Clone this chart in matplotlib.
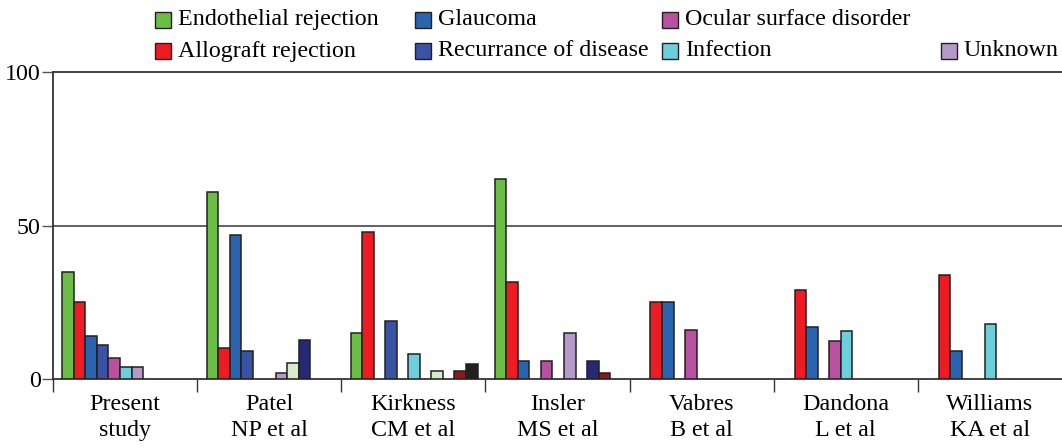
import numpy as np
import matplotlib.pyplot as plt
from matplotlib.patches import Rectangle

plt.rcParams['font.family'] = ['Liberation Serif', 'DejaVu Serif']
plt.rcParams['font.size'] = 17.3

studies = ['Present\nstudy', 'Patel\nNP et al', 'Kirkness\nCM et al', 'Insler\nMS et al',
           'Vabres\nB et al', 'Dandona\nL et al', 'Williams\nKA et al']

nan = np.nan
endothelial = [35, 61, 15, 65, nan, nan, nan]
allograft = [25, 10, 48, 31.5, 25, 29, 34]
glaucoma = [14, 47, nan, 6, 25, 17, 9]
recurrance = [11, 9, 19, nan, nan, nan, nan]
ocular = [7, nan, nan, 6, 16, 12.5, nan]
infection = [4, nan, 8, nan, nan, 15.5, 18]
unknown = [4, 2, nan, 15, nan, nan, nan]
# extra causes shown in some studies but not named in the legend
other_1 = [nan, 5.3, 2.5, nan, nan, nan, nan]
other_2 = [nan, 12.6, nan, 6, nan, nan, nan]
other_3 = [nan, nan, 2.5, 2, nan, nan, nan]
other_4 = [nan, nan, 5, nan, nan, nan, nan]

series = [endothelial, allograft, glaucoma, recurrance, ocular, infection,
          unknown, other_1, other_2, other_3, other_4]
colors = ['#6abd45', '#ed1c24', '#2a64ae', '#3a53a4', '#b8519e', '#6ccfdc',
          '#b49ac8', '#d4ebcc', '#262a74', '#8b1a1e', '#231f20']
labels = ['Endothelial rejection', 'Allograft rejection', 'Glaucoma',
          'Recurrance of disease', 'Ocular surface disorder', 'Infection', 'Unknown']

W, H = 1062, 448
fig = plt.figure(figsize=(W / 100, H / 100), dpi=100)
ax = fig.add_axes([53 / W, 1 - 379 / H, 1 - 53 / W, (379 - 72) / H])

bw = 0.08
for j, (vals, c) in enumerate(zip(series, colors)):
    x = np.arange(len(studies)) + 0.065 + j * bw
    v = np.array(vals, dtype=float)
    m = ~np.isnan(v)
    ax.bar(x[m], v[m], width=bw, align='edge', color=c,
           edgecolor='#231f20', linewidth=1.1, zorder=3)

ax.axhline(50, color='#555555', lw=1.3, zorder=1)
ax.axhline(100, color='#333333', lw=1.3, zorder=1, clip_on=False)

ax.set_xlim(0, 7)
ax.set_ylim(0, 100)
ax.set_yticks([0, 50, 100])
ax.tick_params(axis='y', length=8, width=1, color='#555555', pad=1)

ax.set_xticks(np.arange(0, 7))
ax.set_xticklabels([])
ax.set_xticks(np.arange(7) + 0.5, minor=True)
ax.set_xticklabels(studies, minor=True, linespacing=1.32)
ax.tick_params(axis='x', which='major', length=9, width=1, color='#333333')
ax.tick_params(axis='x', which='minor', length=0, pad=11)

for s in ['top', 'right']:
    ax.spines[s].set_visible(False)
for s in ['left', 'bottom']:
    ax.spines[s].set_linewidth(1.3)
    ax.spines[s].set_color('#333333')

# legend drawn by hand to keep the uneven column layout
cols = [155, 415, 662, 941]
rows = [19.7, 51]
slots = [(0, 0), (0, 1), (1, 0), (1, 1), (2, 0), (2, 1), (3, 1)]
for k, lab in enumerate(labels):
    ci, ri = slots[k]
    x0, yc = cols[ci], rows[ri]
    fig.add_artist(Rectangle((x0 / W, 1 - (yc + 8) / H), 16 / W, 16 / H,
                             transform=fig.transFigure, facecolor=colors[k],
                             edgecolor='#231f20', linewidth=1))
    fig.text((x0 + 23) / W, 1 - yc / H, lab, va='center', ha='left')

fig.savefig('out.png', dpi=100)
